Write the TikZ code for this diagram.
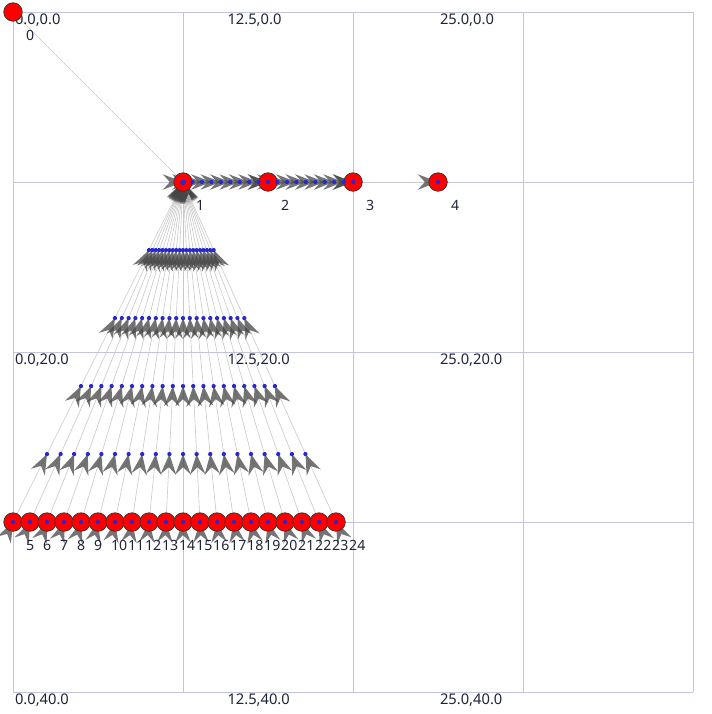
\documentclass[tikz,border=0pt]{standalone}
\usepackage{fontspec}
\setmainfont{Noto Sans}
\usetikzlibrary{decorations.markings,backgrounds}

\definecolor{gridblue}{RGB}{196,196,218}
\definecolor{linkgray}{RGB}{200,200,200}
\definecolor{headgray}{RGB}{70,70,70}
\definecolor{tipblue}{RGB}{40,40,210}
\definecolor{labelink}{RGB}{30,36,56}

\tikzset{
  gridline/.style={draw=gridblue, line width=0.8pt},
  gridlabel/.style={anchor=north west, inner sep=1.5pt, text=labelink, font=\fontsize{12.3}{14}\selectfont},
  vertex/.style={circle, draw=black!80, line width=0.6pt, fill=red, minimum size=15.5pt, inner sep=0pt},
  vlabel/.style={anchor=west, inner sep=0pt, text=labelink, font=\fontsize{11.8}{13}\selectfont},
  link/.style={draw=linkgray, line width=0.5pt},
  headmarks/.style={decoration={markings, mark=between positions 0 and 1 step #1 with {\fill[headgray, fill opacity=0.75] (0pt,0pt) -- (-17pt,6.5pt) -- (-11pt,0pt) -- (-17pt,-6.5pt) -- cycle;}}, postaction={decorate}},
  tipdots/.style={decoration={markings, mark=between positions 0 and 1 step #1 with {\fill[tipblue] (0pt,0pt) circle (1.8pt);}}, decorate}
}

\begin{document}
\begin{tikzpicture}[x=0.5cm, y=-0.5cm]
\useasboundingbox (-0.765,-0.706) rectangle (41.06,41.29);
% grid
\begin{pgfonlayer}{background}
\foreach \g in {0,10,...,40} {
  \draw[gridline] (\g,0) -- (\g,40);
  \draw[gridline] (0,\g) -- (40,\g);
}
\end{pgfonlayer}
\foreach \gx/\tx [count=\i] in {0/0.0,12.5/12.5,25/25.0}
  \foreach \gy/\ty [count=\j] in {0/0.0,20/20.0,40/40.0}
    \node[gridlabel] (glab\i\j) at (\gx,\gy) {\tx,\ty};

% vertices
\node[vertex] (n0) at (0,0) {};
\node[vertex] (n1) at (10,10) {};
\foreach \k/\x in {2/15,3/20,4/25}
  \node[vertex] (n\k) at (\x,10) {};
\foreach \k in {5,...,24}
  \node[vertex] (n\k) at ({\k-5},30) {};
\foreach \k in {0,...,24}
  \node[vlabel] (lab\k) at ([shift={(0.76,1.4)}]n\k.center) {\k};

% links with heads
\begin{pgfonlayer}{background}
\draw[link] (n0.center) -- (n1.center);
\draw[link, headmarks=0.1111] (n1.center) -- (n2.center);
\draw[link, headmarks=0.1111] (n2.center) -- (n3.center);
\draw[link, headmarks=0.9999] (n3.center) -- (n4.center);
\foreach \k in {5,...,24}
  \draw[link, headmarks=0.1999] (n\k.center) -- (n1.center);
\end{pgfonlayer}

% tip dots
\path[tipdots=0.1111] (n1.center) -- (n2.center);
\path[tipdots=0.1111] (n2.center) -- (n3.center);
\path[tipdots=0.9999] (n3.center) -- (n4.center);
\foreach \k in {5,...,24}
  \path[tipdots=0.1999] (n\k.center) -- (n1.center);
\end{tikzpicture}
\end{document}
